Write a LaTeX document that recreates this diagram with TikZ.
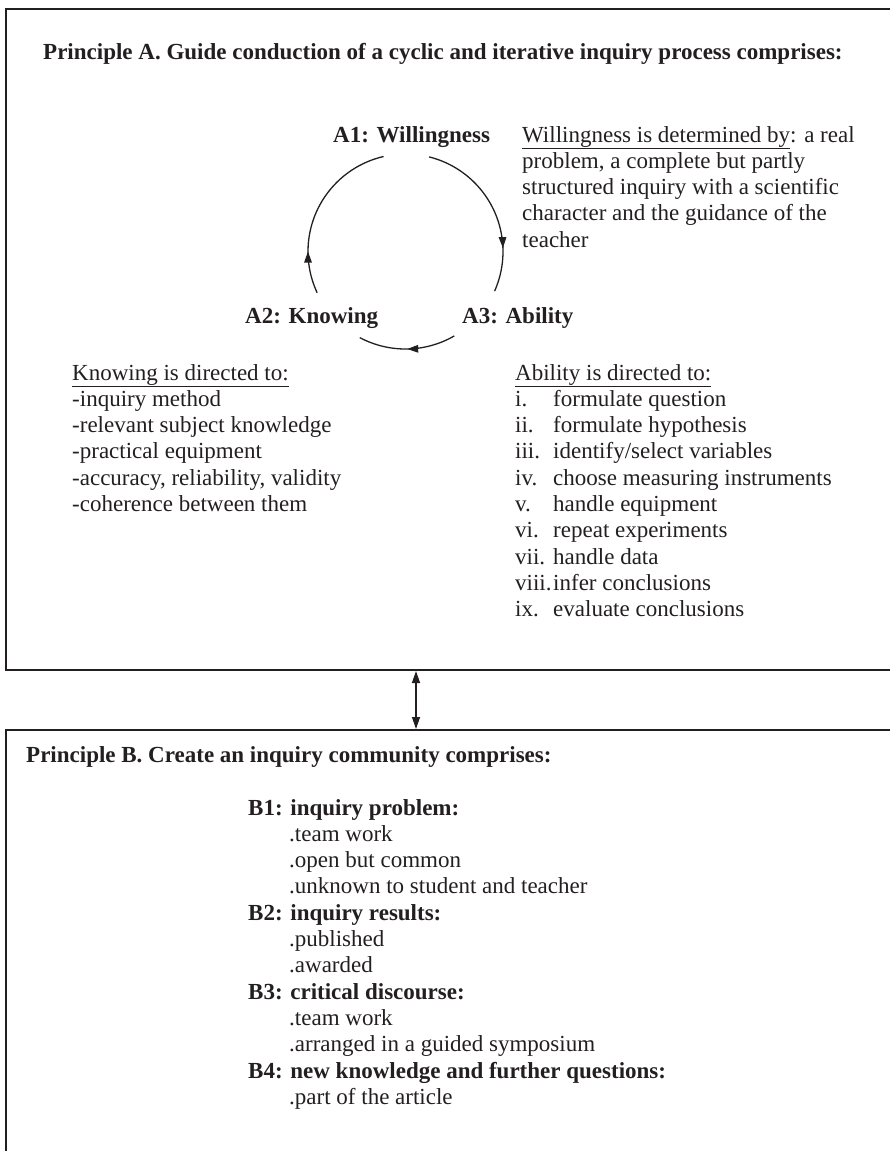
\documentclass[tikz,border=0pt]{standalone}
\usepackage{fontspec}
\setmainfont{Liberation Serif}
\usetikzlibrary{arrows.meta,calc,decorations.markings}
\definecolor{InkClr}{RGB}{35,31,32}

\begin{document}
\begin{tikzpicture}[x=1pt,y=1pt,
  txt/.style={anchor=base west,inner sep=0pt,text=InkClr,font=\fontsize{23}{27}\selectfont},
  head/.style={txt,font=\fontsize{23}{27}\selectfont\bfseries},
  frame/.style={line width=1.6pt,draw=InkClr},
  cyc/.style={line width=1.3pt,draw=InkClr},
  dbl/.style={cyc,{Triangle[length=12pt,width=8pt]}-{Triangle[length=12pt,width=8pt]},shorten <=1pt,shorten >=1pt},
  cyctip/.style={postaction={decorate},decoration={markings,
    mark=at position #1 with {\arrow{Triangle[length=11pt,width=7.5pt]}}}}]

\useasboundingbox (0,0) rectangle (890,-1151);
\clip (0,0) rectangle (890,-1151);

% frames of the two principles
\draw[frame] (6,-9) rectangle (900,-670);
\draw[frame] (900,-730) -- (6,-730) -- (6,-1160);
\coordinate (boxA) at (416,-670);
\coordinate (boxB) at (416,-730);
\draw[dbl] (boxA) -- (boxB);

% principle A
\node[head] (pA) at (43,-59) {Principle A. Guide conduction of a cyclic and iterative inquiry process comprises:};

\coordinate (c) at (405.5,-251.5);
\node[head] (a1) at (333,-142) {A1: Willingness};
\node[head] (a2) at (245,-323) {A2: Knowing};
\node[head] (a3) at (462,-323) {A3: Ability};

\foreach \s/\e/\p in {76/-24/0.74,-60/-118/0.5,205/103/0.245}
  \draw[cyc,cyctip=\p] ($(c)+(\s:97.5)$) arc[start angle=\s,end angle=\e,radius=97.5];

\node[txt] (wHead) at (522,-142) {\underline{Willingness is determined by}: a real};
\foreach \t [count=\i] in {{problem, a complete but partly},{structured inquiry with a scientific},
    {character and the guidance of the},teacher}
  \node[txt] (w\i) at (522,-142-26.3*\i) {\t};

\node[txt] (kHead) at (72,-380) {\underline{Knowing is directed to:}};
\foreach \t [count=\i from 0] in {-inquiry method,-relevant subject knowledge,-practical equipment,
    {-accuracy, reliability, validity},-coherence between them}
  \node[txt] (k\i) at (72,-406.3-26.3*\i) {\t};

\node[txt] (abHead) at (515,-380) {\underline{Ability is directed to:}};
\foreach \n/\t [count=\i from 0] in {i./formulate question,ii./formulate hypothesis,
    iii./{identify/select variables},iv./choose measuring instruments,v./handle equipment,
    vi./repeat experiments,vii./handle data,viii./infer conclusions,ix./evaluate conclusions}
{
  \node[txt] (n\i) at (515,-406.3-26.3*\i) {\n};
  \node[txt] (ab\i) at (553,-406.3-26.3*\i) {\t};
}

% principle B
\node[head] (pB) at (26,-762) {Principle B. Create an inquiry community comprises:};

\foreach \st/\x/\t [count=\i from 0] in {head/248/{B1: inquiry problem:},txt/289/.team work,
    txt/289/.open but common,txt/289/.unknown to student and teacher,
    head/248/{B2: inquiry results:},txt/289/.published,txt/289/.awarded,
    head/248/{B3: critical discourse:},txt/289/.team work,txt/289/.arranged in a guided symposium,
    head/248/{B4: new knowledge and further questions:},txt/289/.part of the article}
  \node[\st] (b\i) at (\x,-815-26.3*\i) {\t};

\end{tikzpicture}
\end{document}
